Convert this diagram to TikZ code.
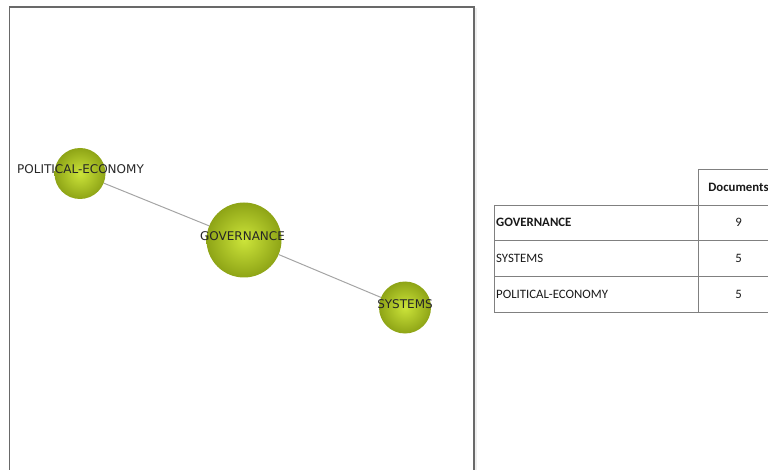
\documentclass[tikz,border=0pt]{standalone}
\usepackage{fontspec}
\setmainfont{Carlito}
\newfontfamily\netfont{DejaVu Sans}
\definecolor{ballin}{RGB}{204,228,58}
\definecolor{ballout}{RGB}{142,164,22}
\definecolor{framegray}{RGB}{105,105,105}
\definecolor{shadegray}{RGB}{238,238,238}
\definecolor{linkgray}{RGB}{165,165,165}
\definecolor{gridgray}{RGB}{128,128,128}
\tikzset{
  term/.style={circle,inner sep=0pt,minimum size=#1,inner color=ballin,outer color=ballout},
  termlabel/.style={font=\netfont\fontsize{12}{12}\selectfont,text=black!85,inner sep=0pt},
  cell/.style={font=\fontsize{12.8}{14}\selectfont,text=black!90,inner sep=0pt},
}
\begin{document}
\begin{tikzpicture}[x=1pt,y=-1pt]
\useasboundingbox (0,0) rectangle (768,470);
\draw[shadegray,line width=1.8pt] (476,8) -- (476,470);
\draw[framegray,line width=1.6pt] (9.5,470) -- (9.5,7) -- (474,7) -- (474,470);
\node[term=51pt,label={[termlabel,yshift=4pt,xshift=0.5pt]center:POLITICAL-ECONOMY}] (pe) at (80,173.5) {};
\node[term=75pt,label={[termlabel,yshift=4pt,xshift=-1.5pt]center:GOVERNANCE}] (gov) at (244,240) {};
\node[term=52pt,label={[termlabel,yshift=3.5pt]center:SYSTEMS}] (sys) at (405,307.5) {};
\draw[linkgray,line width=1pt] (pe) -- (gov);
\draw[linkgray,line width=1pt] (gov) -- (sys);
\draw[gridgray,line width=0.8pt] (698,312) -- (698,169) -- (768,169);
\draw[gridgray,line width=0.8pt] (494,205) -- (494,312);
\foreach \y in {205,240,276,312}{
	\draw[gridgray,line width=0.8pt] (494,\y) -- (768,\y);}
\node[cell,font=\fontsize{12.8}{14}\selectfont\bfseries] (docs) at (738.5,187) {Documents};
\node[cell,anchor=west,font=\fontsize{12.8}{14}\selectfont\bfseries] (row1) at (496,222.5) {GOVERNANCE};
\node[cell] (num1) at (738.5,222.5) {9};
\foreach \name/\n/\y [count=\i from 2] in {SYSTEMS/5/258,POLITICAL-ECONOMY/5/294}{
	\node[cell,anchor=west] (row\i) at (496,\y) {\name};
	\node[cell] (num\i) at (738.5,\y) {\n};}
\end{tikzpicture}
\end{document}
